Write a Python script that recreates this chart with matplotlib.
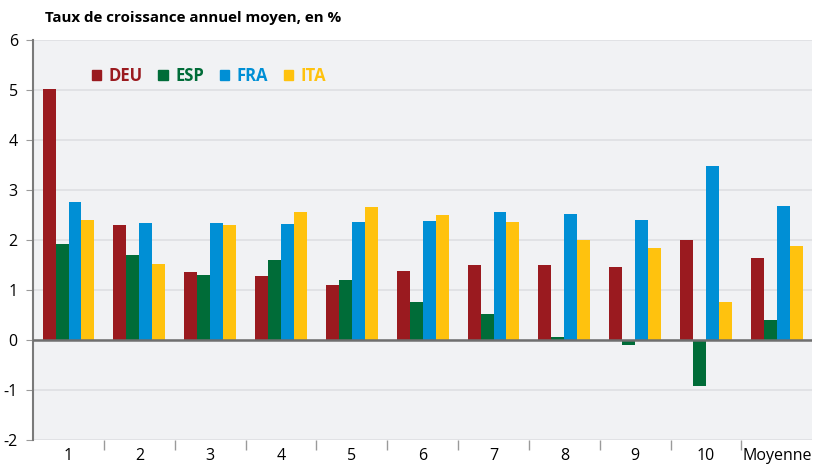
import numpy as np
import matplotlib
matplotlib.use("Agg")
import matplotlib.pyplot as plt
from matplotlib.patches import Patch

categories = ["1", "2", "3", "4", "5", "6", "7", "8", "9", "10", "Moyenne"]
deu = [5.02, 2.30, 1.35, 1.27, 1.10, 1.37, 1.49, 1.49, 1.46, 1.99, 1.64]
esp = [1.92, 1.70, 1.30, 1.59, 1.19, 0.75, 0.52, 0.06, -0.10, -0.92, 0.39]
fra = [2.75, 2.33, 2.34, 2.32, 2.35, 2.37, 2.55, 2.52, 2.39, 3.48, 2.67]
ita = [2.39, 1.52, 2.30, 2.55, 2.66, 2.49, 2.35, 1.99, 1.84, 0.75, 1.87]

series = [("DEU", deu, "#9a1a1f"), ("ESP", esp, "#006c38"),
          ("FRA", fra, "#008fd5"), ("ITA", ita, "#ffc20e")]

plt.rcParams["font.family"] = ["Open Sans", "DejaVu Sans"]
plt.rcParams["axes.unicode_minus"] = False

fig = plt.figure(figsize=(8.28, 4.68), dpi=100)
ax = fig.add_axes([0.040, 0.060, 0.941, 0.855])
ax.set_facecolor("#f1f2f4")

x = np.arange(len(categories))
w = 0.183
for i, (name, vals, col) in enumerate(series):
    ax.bar(x + (i - 1.5) * w, vals, width=w, color=col, label=name, zorder=3)

ax.set_xlim(-0.5, len(categories) - 0.5)
ax.set_ylim(-2, 6)
ax.set_yticks(range(-2, 7))
ax.grid(axis="y", color="#e0e1e4", linewidth=1.3, zorder=0)
ax.axhline(0, color="#6f6f6f", linewidth=1.8, zorder=4)

for s in ["top", "right", "bottom"]:
    ax.spines[s].set_visible(False)
ax.spines["left"].set_color("#7a7a7a")
ax.spines["left"].set_linewidth(1.5)

ax.set_xticks(x)
ax.set_xticklabels(categories)
ax.set_xticks(np.arange(0.5, len(categories) - 1, 1), minor=True)
ax.tick_params(axis="x", which="major", length=0, labelsize=11.5, pad=6)
ax.tick_params(axis="x", which="minor", length=7, color="#9a9a9a", width=1)
ax.tick_params(axis="y", length=5, color="#9a9a9a", labelsize=11.5, pad=6)

handles = [Patch(color=c, label=n) for n, _, c in series]
leg = ax.legend(handles=handles, loc="upper left", bbox_to_anchor=(0.056, 0.97),
                ncol=4, frameon=False, handlelength=0.55, handleheight=0.55,
                handletextpad=0.45, columnspacing=0.95,
                prop={"weight": "bold", "size": 12})
for t, (_, _, c) in zip(leg.get_texts(), series):
    t.set_color(c)

fig.text(0.054, 0.962, "Taux de croissance annuel moyen, en %",
         fontsize=10.9, fontweight="bold", ha="left", va="center")

fig.savefig("out.png", dpi=100)
